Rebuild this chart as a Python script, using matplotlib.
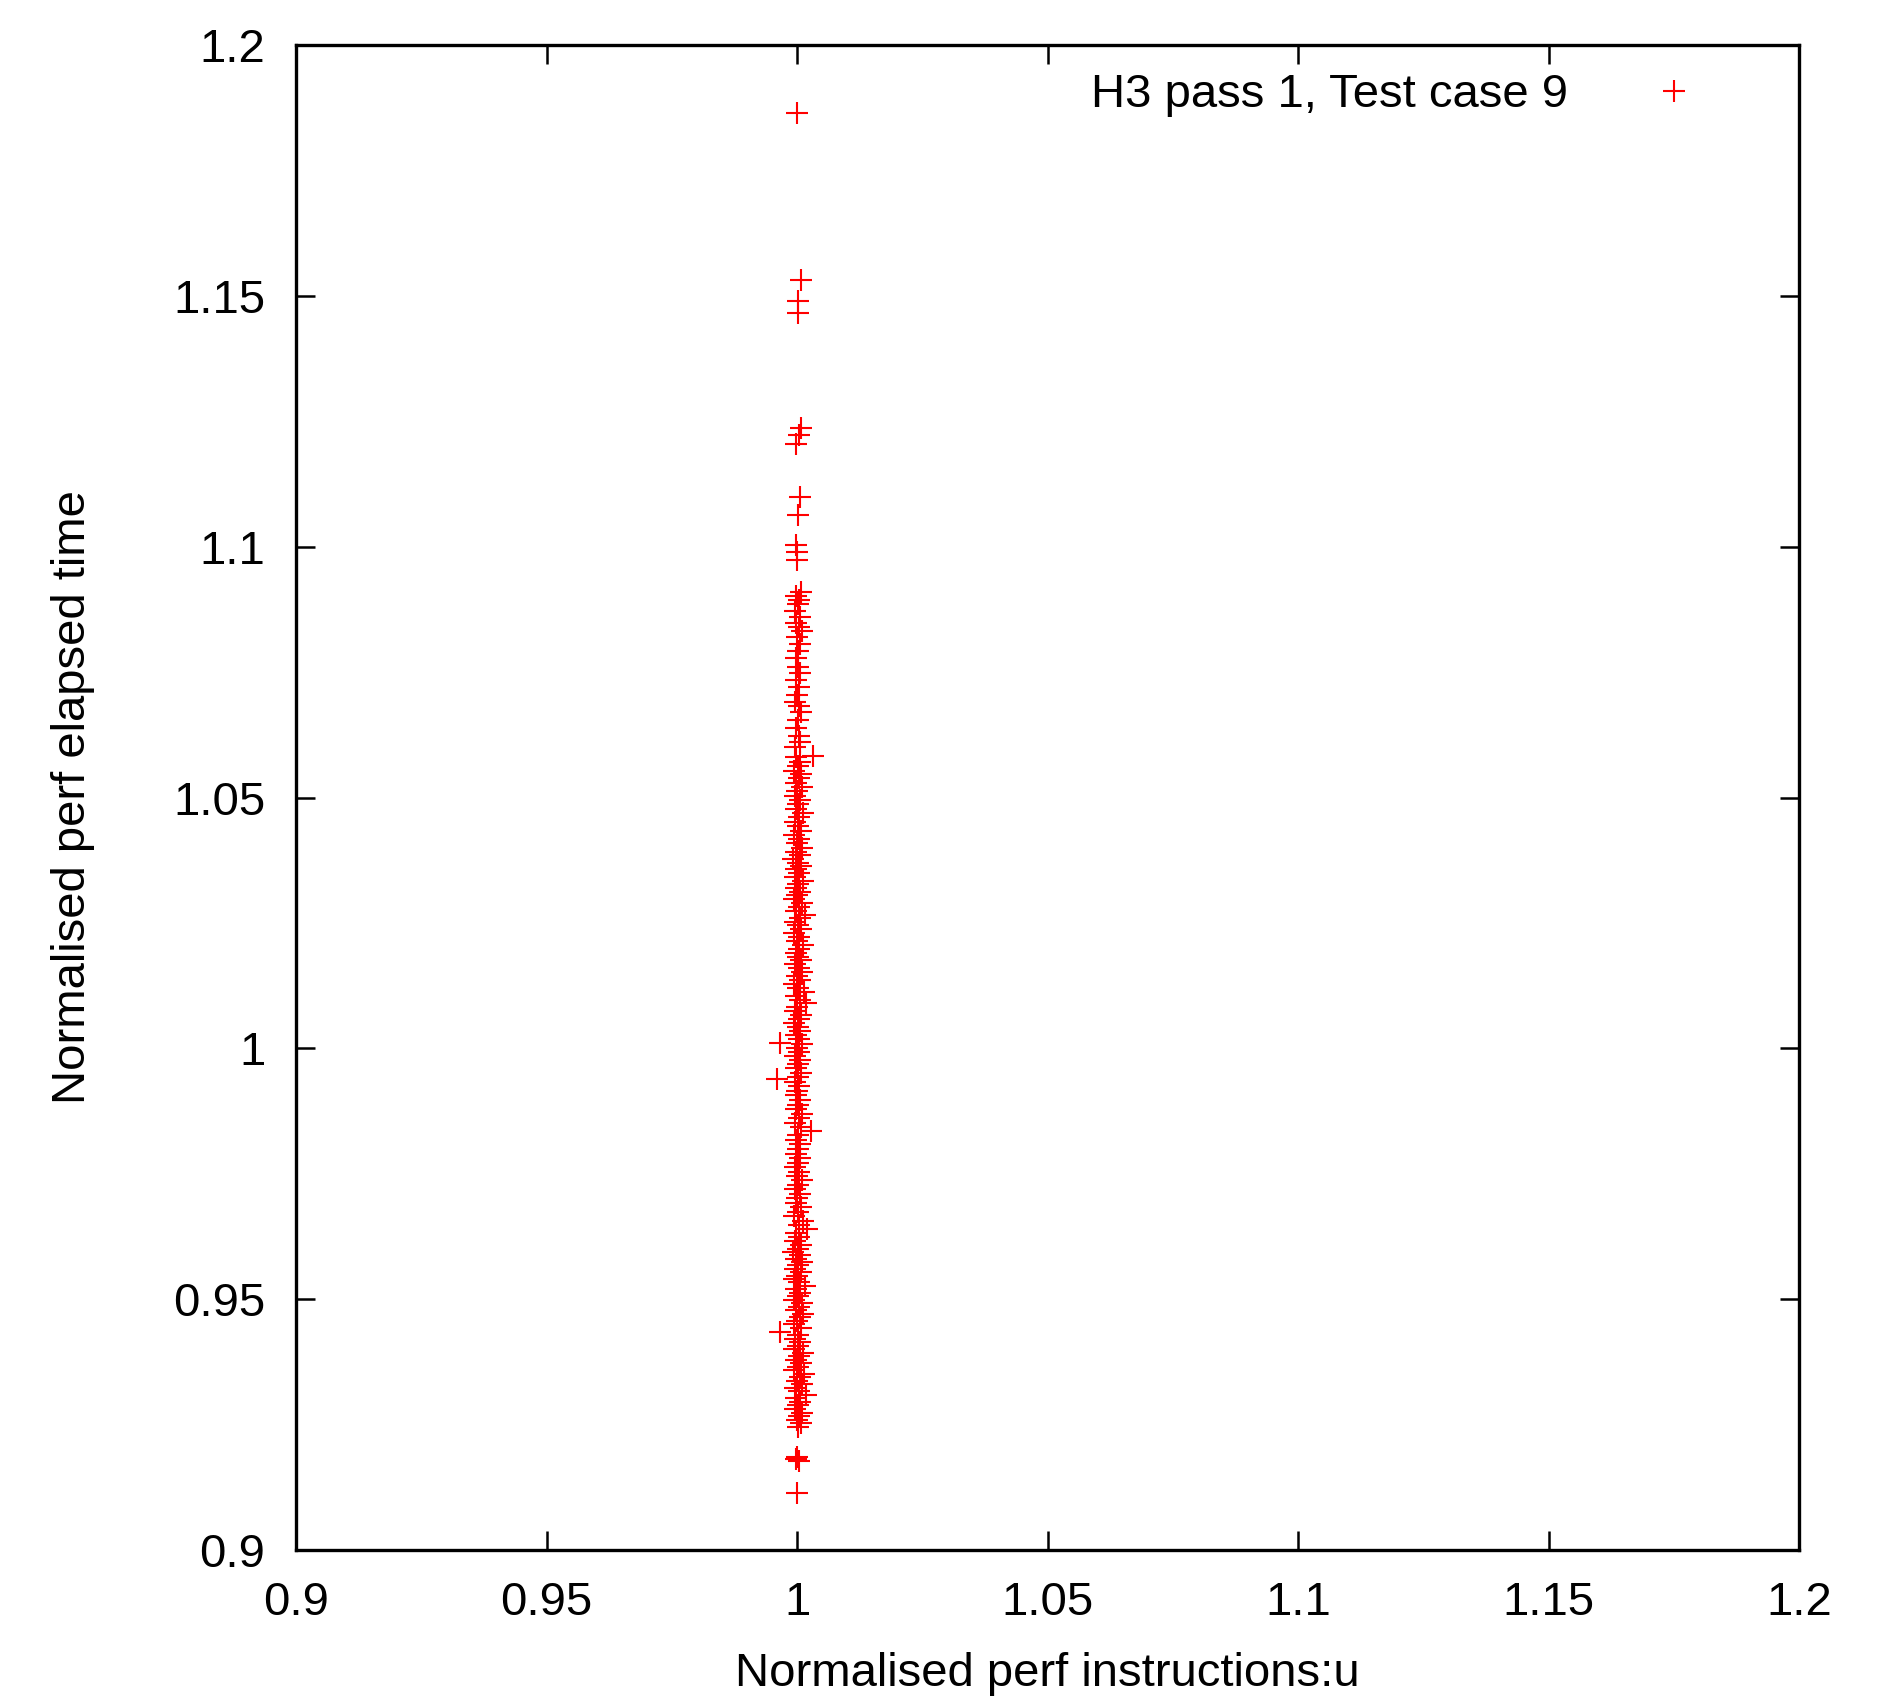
import matplotlib
matplotlib.use("Agg")
import matplotlib.pyplot as plt
from matplotlib.ticker import FixedLocator, FuncFormatter

plt.rcParams['font.family'] = ['Liberation Sans', 'DejaVu Sans']

series_label = "H3 pass 1, Test case 9"
x_label = "Normalised perf instructions:u"
y_label = "Normalised perf elapsed time"
tick_values = [0.9, 0.95, 1.0, 1.05, 1.1, 1.15, 1.2]

# (x, y) points
points = [
    (1.0000, 1.1865), (1.0007, 1.1532), (1.0002, 1.1490), (1.0002, 1.1465),
    (1.0008, 1.1236), (1.0003, 1.1222), (0.9997, 1.1205), (1.0005, 1.1100),
    (1.0002, 1.1064), (0.9998, 1.1003), (0.9999, 1.0989), (1.0000, 1.0973),
    (1.0007, 1.0910), (0.9998, 1.0902), (1.0004, 1.0893), (1.0001, 1.0885),
    (0.9996, 1.0872), (1.0006, 1.0860), (0.9997, 1.0848), (1.0003, 1.0840),
    (1.0009, 1.0831), (0.9999, 1.0820), (1.0005, 1.0806), (1.0001, 1.0792),
    (0.9997, 1.0778), (1.0002, 1.0761), (1.0006, 1.0748), (0.9998, 1.0735),
    (1.0003, 1.0720), (1.0000, 1.0704), (0.9996, 1.0691), (1.0004, 1.0683),
    (1.0008, 1.0670), (1.0001, 1.0655), (0.9997, 1.0638), (1.0003, 1.0622),
    (1.0006, 1.0611), (0.9995, 1.0600),
    (1.0031, 1.0582), (0.9998, 1.0580), (1.0005, 1.0571), (1.0001, 1.0562),
    (0.9994, 1.0553), (1.0008, 1.0546), (1.0003, 1.0538), (0.9997, 1.0529),
    (1.0010, 1.0521), (1.0000, 1.0512), (0.9995, 1.0503), (1.0006, 1.0495),
    (1.0002, 1.0487), (0.9998, 1.0478), (1.0011, 1.0470), (1.0004, 1.0461),
    (0.9996, 1.0452), (1.0001, 1.0443), (1.0007, 1.0434), (0.9993, 1.0426),
    (1.0003, 1.0418), (1.0000, 1.0409), (1.0009, 1.0400),
    (0.9997, 1.0392), (1.0005, 1.0385), (0.9992, 1.0378), (1.0002, 1.0370),
    (1.0008, 1.0364), (0.9998, 1.0357), (1.0004, 1.0349), (0.9995, 1.0341),
    (1.0012, 1.0334), (1.0001, 1.0327), (0.9997, 1.0320), (1.0006, 1.0312),
    (1.0000, 1.0305), (0.9993, 1.0297), (1.0009, 1.0289), (1.0003, 1.0282),
    (0.9998, 1.0274), (1.0015, 1.0266), (1.0005, 1.0259), (0.9996, 1.0252),
    (1.0001, 1.0245), (1.0007, 1.0237), (0.9994, 1.0229), (1.0003, 1.0221),
    (0.9999, 1.0214), (1.0011, 1.0206), (1.0004, 1.0198), (0.9997, 1.0191),
    (1.0001, 1.0183), (1.0008, 1.0176),
    (0.9995, 1.0168), (1.0003, 1.0160), (1.0010, 1.0152), (0.9999, 1.0144),
    (1.0006, 1.0136), (0.9993, 1.0128), (1.0002, 1.0120), (1.0013, 1.0112),
    (0.9997, 1.0104), (1.0005, 1.0097), (1.0017, 1.0090), (1.0000, 1.0082),
    (0.9996, 1.0074), (1.0008, 1.0066), (1.0003, 1.0058), (0.9994, 1.0050),
    (1.0001, 1.0042), (1.0006, 1.0034), (0.9998, 1.0026), (1.0004, 1.0018),
    (0.9966, 1.0011), (1.0010, 1.0008), (0.9999, 1.0001), (1.0003, 0.9993),
    (0.9959, 0.9939), (0.9996, 0.9985), (1.0005, 0.9977), (1.0001, 0.9968),
    (0.9998, 0.9960), (1.0007, 0.9951), (1.0002, 0.9942), (0.9995, 0.9933),
    (1.0004, 0.9924), (1.0000, 0.9915), (0.9997, 0.9906), (1.0006, 0.9897),
    (1.0002, 0.9888), (0.9998, 0.9879), (1.0010, 0.9870), (1.0003, 0.9861),
    (0.9996, 0.9852), (1.0008, 0.9843), (1.0028, 0.9835), (1.0001, 0.9827),
    (0.9997, 0.9818), (1.0005, 0.9809), (1.0002, 0.9800),
    (0.9998, 0.9790), (1.0006, 0.9781), (1.0001, 0.9772), (0.9995, 0.9763),
    (1.0003, 0.9754), (0.9999, 0.9746), (1.0009, 0.9737), (1.0002, 0.9728),
    (0.9996, 0.9719), (1.0005, 0.9710), (1.0000, 0.9701), (0.9997, 0.9692),
    (1.0007, 0.9683), (1.0002, 0.9674), (0.9994, 0.9665), (1.0012, 0.9656),
    (1.0004, 0.9648), (1.0020, 0.9640), (0.9998, 0.9632), (1.0003, 0.9624),
    (0.9995, 0.9616), (1.0008, 0.9608),
    (1.0001, 0.9600), (0.9992, 0.9594), (1.0005, 0.9588), (0.9997, 0.9581),
    (1.0010, 0.9575), (1.0002, 0.9568), (0.9995, 0.9561), (1.0007, 0.9554),
    (1.0000, 0.9547), (0.9993, 0.9541), (1.0004, 0.9534), (1.0015, 0.9527),
    (0.9998, 0.9520), (1.0006, 0.9513), (1.0001, 0.9506), (0.9994, 0.9499),
    (1.0009, 0.9492), (1.0003, 0.9485), (0.9997, 0.9478), (1.0012, 0.9471),
    (1.0005, 0.9464), (0.9999, 0.9457), (0.9993, 0.9450), (1.0008, 0.9443),
    (0.9966, 0.9435), (1.0002, 0.9428), (0.9996, 0.9421), (1.0006, 0.9414),
    (1.0001, 0.9407), (0.9993, 0.9400), (1.0011, 0.9393), (1.0004, 0.9386),
    (0.9998, 0.9379), (1.0007, 0.9372), (1.0001, 0.9365), (0.9994, 0.9358),
    (1.0013, 0.9351), (1.0005, 0.9344), (0.9999, 0.9337), (1.0009, 0.9330),
    (0.9995, 0.9323), (1.0003, 0.9316), (1.0017, 0.9309), (0.9998, 0.9302),
    (1.0006, 0.9295), (1.0001, 0.9288), (0.9996, 0.9281), (1.0010, 0.9274),
    (1.0004, 0.9267), (0.9999, 0.9260), (1.0008, 0.9253), (1.0002, 0.9246),
    (1.0000, 0.9186), (0.9998, 0.9181), (1.0003, 0.9178), (1.0000, 0.9114),
]
x_values = [p[0] for p in points]
y_values = [p[1] for p in points]

fig = plt.figure(figsize=(19.02, 17.01), dpi=100)
ax = fig.add_axes([0.1556, 0.0888, 0.7905, 0.8847])

ax.plot(x_values, y_values, linestyle='none', marker='+', color='#ff0000',
        markersize=16, markeredgewidth=1.5, label=series_label)

ax.set_xlim(0.9, 1.2)
ax.set_ylim(0.9, 1.2)
ax.xaxis.set_major_locator(FixedLocator(tick_values))
ax.yaxis.set_major_locator(FixedLocator(tick_values))
fmt = FuncFormatter(lambda v, p: "%g" % round(v, 4))
ax.xaxis.set_major_formatter(fmt)
ax.yaxis.set_major_formatter(fmt)

for s in ax.spines.values():
    s.set_linewidth(2.4)
ax.tick_params(axis='both', which='major', direction='in', length=14, width=1.8,
               top=True, right=True, labelsize=34)
ax.tick_params(axis='x', pad=22)
ax.tick_params(axis='y', pad=22)

ax.set_xlabel(x_label, fontsize=34, labelpad=20)
ax.set_ylabel(y_label, fontsize=34, labelpad=56)

leg = ax.legend(loc='upper right', bbox_to_anchor=(0.9418, 0.9812),
                frameon=False, markerfirst=False, fontsize=34,
                handlelength=1.6, handletextpad=1.44,
                borderaxespad=0.0, borderpad=0.0)

fig.savefig("out.png", dpi=100)
